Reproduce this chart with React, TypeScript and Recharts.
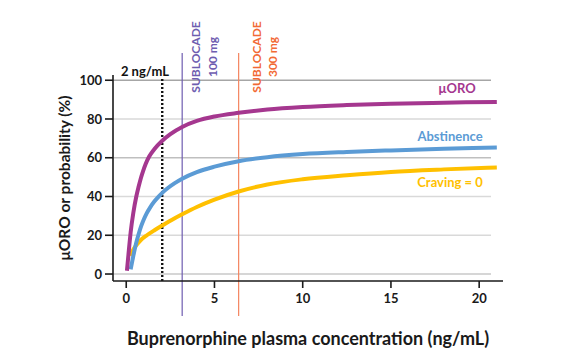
import {
  LineChart,
  Line,
  XAxis,
  YAxis,
  ReferenceLine,
  ReferenceDot,
} from 'recharts';

// concentration (ng/mL) / value pairs
const muOroConc = [0.04, 0.12, 0.25, 0.4, 0.57, 0.7, 0.82, 0.95, 1.1, 1.3, 1.6, 2.04, 2.5, 3.17, 4, 5, 6.37, 8, 10, 12.5, 15, 18, 21];
const muOroValues = [1.7, 9.5, 21.5, 31.5, 40, 45, 49.2, 53, 56.8, 60.6, 64.5, 68.8, 72.2, 75.9, 79, 81.3, 83.2, 84.9, 86.2, 87.2, 87.9, 88.4, 88.8];

const abstinenceConc = [0.25, 0.35, 0.45, 0.55, 0.7, 0.85, 1.0, 1.15, 1.35, 1.6, 1.86, 2.1, 2.36, 2.75, 3.17, 4, 5, 6.37, 8, 10, 12.5, 15, 18, 21];
const abstinenceValues = [2.4, 7, 11.5, 15.5, 20.5, 24.8, 28.3, 31.2, 34.3, 37.5, 40.2, 42.4, 44.4, 46.9, 49.2, 52.6, 55.4, 58.2, 60.3, 61.9, 63, 63.8, 64.6, 65.3];

const cravingConc = [0.2, 0.5, 0.8, 1.17, 1.6, 2.04, 2.6, 3.17, 4, 5, 6.37, 8, 10, 12.5, 15, 18, 21];
const cravingValues = [9.5, 14, 17.3, 20, 22.6, 25, 28, 30.8, 34.6, 38.4, 42.6, 46.2, 48.9, 51, 52.7, 54, 55];

const xTicks = [0, 5, 10, 15, 20];
const yTicks = [0, 20, 40, 60, 80, 100];
const gridColors = ['#c8c8c8', '#d9d9d9', '#d9d9d9', '#bfbfbf', '#d9d9d9', '#a6a6a6'];

const threshold = 2.04;
const sublocade100 = 3.17;
const sublocade300 = 6.37;

const X_MIN = -0.75;
const X_MAX = 21.35;
const Y_MIN = -3.6;
const Y_MAX = 102.7;
const GRID_END = 20.67;

const toPoints = (xs: number[], ys: number[]) => xs.map((x, i) => ({ x, y: ys[i] }));

const muOroData = toPoints(muOroConc, muOroValues);
const abstinenceData = toPoints(abstinenceConc, abstinenceValues);
const cravingData = toPoints(cravingConc, cravingValues);

const FONT = 'Lato, "Open Sans", sans-serif';
const PURPLE = '#a5378f';
const BLUE = '#5b9bd5';
const GOLD = '#ffc000';
const VIOLET = '#6e5db0';
const ORANGE = '#f26a35';

const tickStyle = { fontFamily: FONT, fontSize: 13, fontWeight: 700, fill: '#1a1a1a' };

const textLabel = (value: string, fill: string, fontSize: number, angle = 0) => ({
  value,
  position: 'center' as const,
  fill,
  fontSize,
  fontWeight: 700,
  fontFamily: FONT,
  angle,
});

export default function App() {
  return (
    <div style={{ position: 'absolute', left: 0, top: 0, width: 574, height: 355, background: '#fff' }}>
      <LineChart
        width={574}
        height={355}
        margin={{ top: 75, right: 71, bottom: 0, left: 0 }}
      >
        <XAxis
          type="number"
          dataKey="x"
          domain={[X_MIN, X_MAX]}
          ticks={xTicks}
          allowDataOverflow
          height={74}
          stroke="#1a1a1a"
          strokeWidth={1.6}
          tickSize={7}
          tickMargin={6}
          tick={tickStyle}
          label={{
            value: 'Buprenorphine plasma concentration (ng/mL)',
            position: 'insideBottom',
            offset: 10,
            fill: '#1a1a1a',
            fontSize: 18,
            fontWeight: 700,
            fontFamily: FONT,
          }}
        />
        <YAxis
          type="number"
          dataKey="y"
          domain={[Y_MIN, Y_MAX]}
          ticks={yTicks}
          allowDataOverflow
          width={113}
          stroke="#1a1a1a"
          strokeWidth={1.6}
          tickSize={8}
          tickMargin={3}
          tick={tickStyle}
          label={{
            value: 'μORO or probability (%)',
            angle: -90,
            position: 'insideLeft',
            offset: 64,
            style: { textAnchor: 'middle' },
            fill: '#1a1a1a',
            fontSize: 15.5,
            fontWeight: 700,
            fontFamily: FONT,
          }}
        />

        {yTicks.map((t, i) => (
          <ReferenceLine
            key={`grid-${t}`}
            segment={[{ x: X_MIN, y: t }, { x: GRID_END, y: t }]}
            stroke={gridColors[i]}
            strokeWidth={1.4}
            ifOverflow="visible"
          />
        ))}

        <ReferenceLine
          segment={[{ x: threshold, y: Y_MIN }, { x: threshold, y: 101 }]}
          stroke="#111"
          strokeWidth={2.4}
          strokeDasharray="2 2"
          ifOverflow="visible"
        />
        <ReferenceLine
          segment={[{ x: sublocade100, y: -21.7 }, { x: sublocade100, y: 114 }]}
          stroke={VIOLET}
          strokeWidth={1.2}
          ifOverflow="visible"
        />
        <ReferenceLine
          segment={[{ x: sublocade300, y: -21.7 }, { x: sublocade300, y: 114 }]}
          stroke="#f4845f"
          strokeWidth={1.2}
          ifOverflow="visible"
        />

        <Line
          data={cravingData}
          dataKey="y"
          type="monotone"
          stroke={GOLD}
          strokeWidth={4}
          dot={false}
          activeDot={false}
          isAnimationActive={false}
        />
        <Line
          data={abstinenceData}
          dataKey="y"
          type="monotone"
          stroke={BLUE}
          strokeWidth={4}
          dot={false}
          activeDot={false}
          isAnimationActive={false}
        />
        <Line
          data={muOroData}
          dataKey="y"
          type="monotone"
          stroke={PURPLE}
          strokeWidth={4}
          dot={false}
          activeDot={false}
          isAnimationActive={false}
        />

        <ReferenceDot x={1.06} y={104.8} r={0} ifOverflow="visible" label={textLabel('2 ng/mL', '#111', 13)} />
        <ReferenceDot x={3.95} y={112} r={0} ifOverflow="visible" label={textLabel('SUBLOCADE', VIOLET, 12, -90)} />
        <ReferenceDot x={4.91} y={112} r={0} ifOverflow="visible" label={textLabel('100 mg', VIOLET, 12, -90)} />
        <ReferenceDot x={7.39} y={112} r={0} ifOverflow="visible" label={textLabel('SUBLOCADE', ORANGE, 12, -90)} />
        <ReferenceDot x={8.32} y={112} r={0} ifOverflow="visible" label={textLabel('300 mg', ORANGE, 12, -90)} />

        <ReferenceDot x={18.75} y={96} r={0} ifOverflow="visible" label={textLabel('μORO', PURPLE, 13)} />
        <ReferenceDot x={18.35} y={71} r={0} ifOverflow="visible" label={textLabel('Abstinence', BLUE, 13)} />
        <ReferenceDot x={18.35} y={47.5} r={0} ifOverflow="visible" label={textLabel('Craving = 0', GOLD, 13)} />
      </LineChart>
    </div>
  );
}
